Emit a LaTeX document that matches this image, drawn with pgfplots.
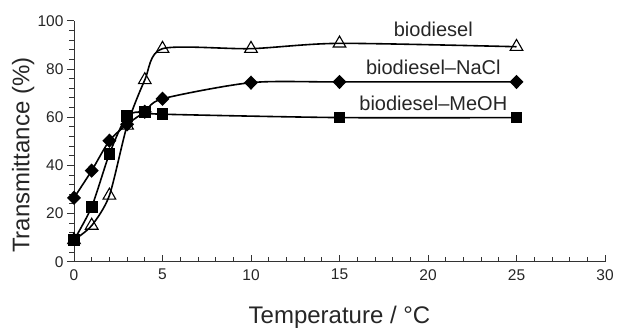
\documentclass[border=0pt]{standalone}
\usepackage{pgfplots}
\pgfplotsset{compat=1.18}
\usepackage{fontspec}
\setmainfont{Liberation Sans}
\begin{document}
\begin{tikzpicture}
\begin{axis}[
  scale only axis,
  width=531pt, height=241pt,
  xmin=0, xmax=30, ymin=0, ymax=100,
  axis lines*=left,
  axis line style={line width=1pt, color=black!80},
  xtick={0,5,...,30}, ytick={0,20,...,100},
  minor x tick num=4, minor y tick num=4,
  x tick style={line width=0.8pt, color=black!80},
  y tick style={line width=0.8pt, color=black!80},
  xtick align=inside, ytick align=outside,
  major tick length=7pt, minor tick length=4.5pt,
  tick label style={font=\fontsize{15.5}{17}\selectfont, color=black!85},
  xticklabel style={yshift=-4pt},
  /pgf/number format/assume math mode=true,
  xlabel={Temperature / °C},
  ylabel={Transmittance (\%)},
  label style={font=\fontsize{24}{26}\selectfont, color=black!85},
  xlabel style={at={(axis description cs:0.5,0)}, anchor=base, yshift=-61.6pt},
  ylabel style={at={(axis description cs:0,0.5)}, anchor=base, yshift=44.7pt, xshift=-14pt},
  clip=false,
]
\addplot[black, line width=1.6pt, smooth, tension=0.45, mark=triangle, mark size=7.3pt, mark options={fill=white, line width=1.1pt}]
coordinates {(0,9) (1,15) (2,27.5) (3,56.5) (4,75.4) (5,88.4) (10,88.4) (15,90.6) (25,89.2)};
\addplot[black, line width=1.6pt, smooth, tension=0.45, mark=square*, mark size=5pt]
coordinates {(0,9) (1,22.8) (2,44.7) (3,60.5) (4,62) (5,61.2) (15,59.8) (25,59.8)};
\addplot[black, line width=1.6pt, smooth, tension=0.45, mark=diamond*, mark size=6pt, mark options={xscale=1.3}]
coordinates {(0,26.5) (1,37.8) (2,50.2) (3,57) (4,62.2) (5,67.6) (10,74.3) (15,74.6) (25,74.6)};
\node[font=\fontsize{20}{22}\selectfont, color=black!85] at (axis cs:20.3,96.3) {biodiesel};
\node[font=\fontsize{20}{22}\selectfont, color=black!85] at (axis cs:20.3,80.8) {biodiesel–NaCl};
\node[font=\fontsize{20}{22}\selectfont, color=black!85] at (axis cs:20.3,65.9) {biodiesel–MeOH};
\end{axis}
\pgfresetboundingbox
\path (current axis.south west) ++(-74pt,-65.3pt) rectangle ++(617pt,327pt);
\end{tikzpicture}
\end{document}
